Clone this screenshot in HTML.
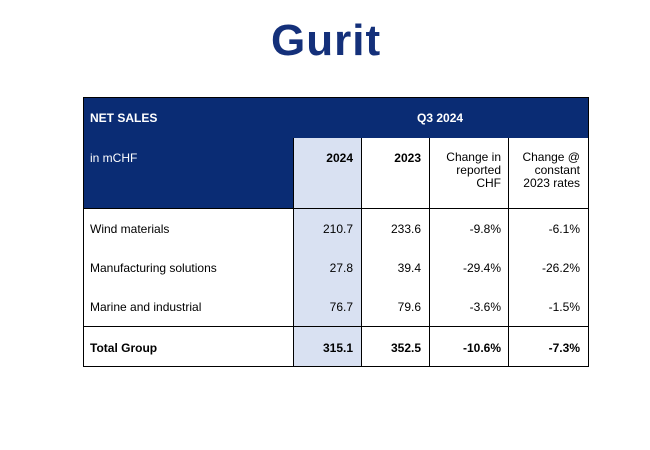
<!DOCTYPE html>
<html><head><meta charset="utf-8"><style>
body{margin:0;width:650px;height:450px;background:#fff;font-family:"Liberation Sans",Arial,sans-serif;position:relative;overflow:hidden}
.a{position:absolute;box-sizing:border-box}
.t{position:absolute;font-size:12px;color:#000;white-space:nowrap}
.r{text-align:right}
.w{color:#fff}
.b{font-weight:bold}
.v{background:#000}
</style></head><body>
<div class="a" style="left:271px;top:16px;width:122px;height:50px;font-size:44px;font-weight:bold;color:#14307a;letter-spacing:1px;line-height:50px">Gurit</div>
<div class="a" style="left:83px;top:97px;width:506px;height:270px;border:1px solid #000">
 <div class="a" style="left:0;top:0;width:504px;height:40px;background:#0a2c74"></div>
 <div class="a" style="left:0;top:40px;width:209px;height:71px;background:#0a2c74"></div>
 <div class="a" style="left:209px;top:40px;width:69px;height:228px;background:#d9e1f2"></div>
 <div class="a v" style="left:209px;top:40px;width:1px;height:228px"></div>
 <div class="a v" style="left:277px;top:40px;width:1px;height:228px"></div>
 <div class="a v" style="left:345px;top:40px;width:1px;height:228px"></div>
 <div class="a v" style="left:424px;top:40px;width:1px;height:228px"></div>
 <div class="a v" style="left:0;top:110px;width:504px;height:1px"></div>
 <div class="a v" style="left:0;top:228px;width:504px;height:1px"></div>
</div>
<div class="t w b" style="left:90px;top:111px">NET SALES</div>
<div class="t w b" style="left:417px;top:111px">Q3 2024</div>
<div class="t w" style="left:90px;top:151px">in mCHF</div>
<div class="t b r" style="left:300px;width:53px;top:151px">2024</div>
<div class="t b r" style="left:368px;width:53px;top:151px">2023</div>
<div class="t r" style="left:432px;width:69px;top:151px;line-height:13px">Change in<br>reported<br>CHF</div>
<div class="t r" style="left:510px;width:70px;top:151px;line-height:13px">Change @<br>constant<br>2023 rates</div>

<div class="t" style="left:90px;top:222px">Wind materials</div>
<div class="t r" style="left:300px;width:53px;top:222px">210.7</div>
<div class="t r" style="left:368px;width:53px;top:222px">233.6</div>
<div class="t r" style="left:432px;width:69px;top:222px">-9.8%</div>
<div class="t r" style="left:510px;width:70px;top:222px">-6.1%</div>

<div class="t" style="left:90px;top:261px">Manufacturing solutions</div>
<div class="t r" style="left:300px;width:53px;top:261px">27.8</div>
<div class="t r" style="left:368px;width:53px;top:261px">39.4</div>
<div class="t r" style="left:432px;width:69px;top:261px">-29.4%</div>
<div class="t r" style="left:510px;width:70px;top:261px">-26.2%</div>

<div class="t" style="left:90px;top:300px">Marine and industrial</div>
<div class="t r" style="left:300px;width:53px;top:300px">76.7</div>
<div class="t r" style="left:368px;width:53px;top:300px">79.6</div>
<div class="t r" style="left:432px;width:69px;top:300px">-3.6%</div>
<div class="t r" style="left:510px;width:70px;top:300px">-1.5%</div>

<div class="t b" style="left:90px;top:341px">Total Group</div>
<div class="t b r" style="left:300px;width:53px;top:341px">315.1</div>
<div class="t b r" style="left:368px;width:53px;top:341px">352.5</div>
<div class="t b r" style="left:432px;width:69px;top:341px">-10.6%</div>
<div class="t b r" style="left:510px;width:70px;top:341px">-7.3%</div>
</body></html>
